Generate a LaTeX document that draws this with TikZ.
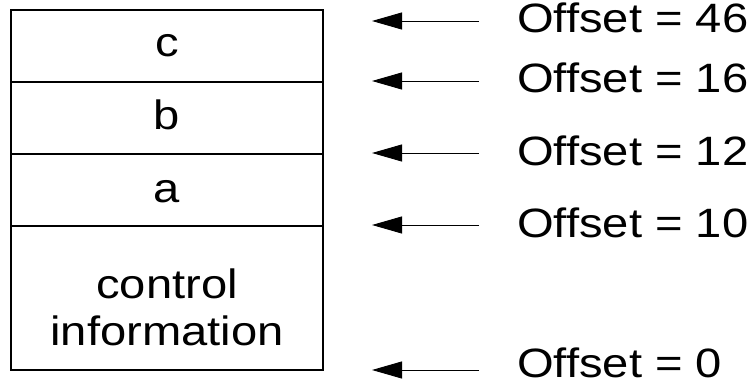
\documentclass[tikz,border=0pt]{standalone}
\usepackage{fontspec}
\setmainfont[FakeStretch=1.15]{Liberation Sans}
\usetikzlibrary{arrows.meta}
\begin{document}
\begin{tikzpicture}[x=1pt,y=-1pt,
  sec/.style={draw,line width=1.1pt,minimum width=312pt,inner sep=0pt,outer sep=0pt},
  lbl/.style={anchor=base,inner sep=0pt,font=\fontsize{41}{47}\selectfont},
  off/.style={anchor=base west,inner sep=0pt,font=\fontsize{41}{47}\selectfont},
  arr/.style={line width=0.9pt,-{Triangle[length=30pt,width=17pt]}}]
\useasboundingbox (0,0) rectangle (755,385);
% stacked sections
\node[sec,minimum height=72pt] (sc) at (167,46) {};
\node[sec,minimum height=72pt] (sb) at (167,118) {};
\node[sec,minimum height=72pt] (sa) at (167,190) {};
\node[sec,minimum height=144pt] (sctl) at (167,298) {};
% section labels
\node[lbl] (lc) at (167,57) {c};
\node[lbl] (lb) at (167,130) {b};
\node[lbl] (la) at (167,202) {a};
\node[lbl,align=center] (lctl) at (167,345) {control\\information};
% offsets
\node[off] (o46) at (517,33) {Offset = 46};
\node[off] (o16) at (517,93) {Offset = 16};
\node[off] (o12) at (517,165) {Offset = 12};
\node[off] (o10) at (517,237) {Offset = 10};
\node[off] (o0) at (517,377) {Offset = 0};
% arrows
\foreach \n/\y in {46/21,16/81,12/153,10/225,0/370}{
  \coordinate (t\n) at (479,\y);
  \coordinate (h\n) at (372,\y);
  \draw[arr] (t\n) -- (h\n);
}
\end{tikzpicture}
\end{document}
